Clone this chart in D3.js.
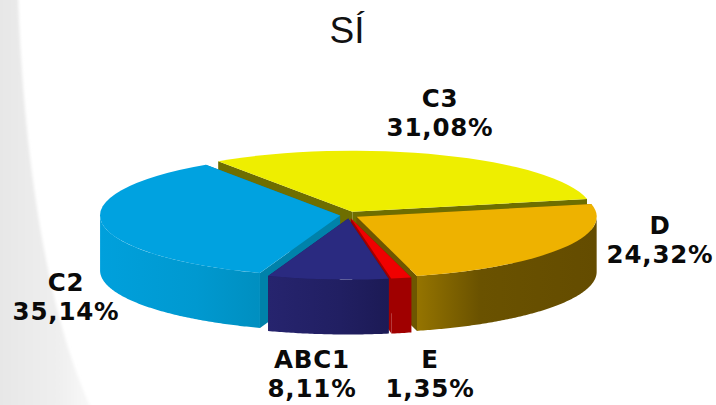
<!DOCTYPE html>
<html>
<head>
<meta charset="utf-8">
<script src="https://cdn.jsdelivr.net/npm/d3@7"></script>
<style>
  html, body { margin: 0; padding: 0; background: #fff; overflow: hidden; }
  svg { display: block; }
</style>
</head>
<body>
<div id="chart"></div>
<script>
var categories = ["C3", "D", "E", "ABC1", "C2"];
var values = [31.08, 24.32, 1.35, 8.11, 35.14];
var chartTitle = "SÍ";

var width = 716, height = 405;
var cx = 349, cy = 215, rx = 240, ry = 61, depth = 55;
var deg = Math.PI / 180;

var topColor = d3.scaleOrdinal().domain(categories).range(["#eeee00", "#eeb200", "#f00000", "#2a2a80", "#00a2e0"]);
var cutColor = d3.scaleOrdinal().domain(categories).range(["#6e6e00", "#6e5600", "#a00000", "#1e1c5c", "#0082aa"]);
var wallStart = d3.scaleOrdinal().domain(categories).range(["#6e6e00", "#957400", "#a00000", "#26246e", "#00a0dc"]);
var wallMid = d3.scaleOrdinal().domain(categories).range(["#6e6e00", "#6a5200", "#a00000", "#211f62", "#0099d0"]);
var wallEnd = d3.scaleOrdinal().domain(categories).range(["#6e6e00", "#644c00", "#a00000", "#1c1a55", "#008fc0"]);

// label centres, first line baseline
var labelPos = {C3: [440, 107], D: [660, 234], E: [430, 368], ABC1: [312, 368], C2: [66, 291]};

var svg = d3.select("#chart")
    .append("svg")
    .attr("width", width)
    .attr("height", height);

var defs = svg.append("defs");

// grey swoosh on the left of the slide
var bgGrad = defs.append("linearGradient").attr("id", "swoosh");
bgGrad.append("stop").attr("offset", "0%").attr("stop-color", "#e6e6e6");
bgGrad.append("stop").attr("offset", "60%").attr("stop-color", "#eeeeee");
bgGrad.append("stop").attr("offset", "100%").attr("stop-color", "#f8f8f8");

defs.append("filter").attr("id", "soft")
    .append("feGaussianBlur").attr("stdDeviation", 1.5);

svg.append("path")
    .attr("d", "M-5,-5 L18,-5 C22,120 40,300 92,410 L-5,410 Z")
    .attr("fill", "url(#swoosh)")
    .attr("filter", "url(#soft)");

var pie = d3.pie().sort(null).startAngle(-34 * deg).endAngle(326 * deg);
var slices = pie(values).map(function(s, i) {
  var mid = (s.startAngle + s.endAngle) / 2;
  return {
    name: categories[i],
    value: values[i],
    a0: s.startAngle,
    a1: s.endAngle,
    x: cx + 9 * Math.sin(mid),
    y: cy - 3.5 * Math.cos(mid)
  };
});

var arc = d3.arc().innerRadius(0).outerRadius(1);

function px(a) { return rx * Math.sin(a); }
function py(a) { return -ry * Math.cos(a); }

// back to front
var paintOrder = ["C3", "C2", "D", "E", "ABC1"];
var ordered = paintOrder.map(function(n) {
  return slices.find(function(s) { return s.name === n; });
});

var groups = svg.selectAll("g.slice")
    .data(ordered)
    .enter().append("g")
    .attr("class", "slice")
    .attr("transform", function(d) { return "translate(" + d.x + "," + d.y + ")"; });

// radial cut faces
groups.each(function(d) {
  var g = d3.select(this);
  [d.a0, d.a1].forEach(function(a) {
    g.append("path")
      .attr("d", "M0,0 L" + px(a) + "," + py(a) + " L" + px(a) + "," + (py(a) + depth) + " L0," + depth + " Z")
      .attr("fill", cutColor(d.name));
  });
});

// curved outer wall, only the part facing the viewer
groups.each(function(d, i) {
  var from = Math.max(d.a0, 90 * deg), to = Math.min(d.a1, 270 * deg);
  if (from >= to) return;
  var gradId = "wall" + i;
  var x1 = Math.min(px(from), px(to)), x2 = Math.max(px(from), px(to));
  var grad = defs.append("linearGradient")
      .attr("id", gradId)
      .attr("gradientUnits", "userSpaceOnUse")
      .attr("x1", x1).attr("x2", x2)
      .attr("y1", 0).attr("y2", 0);
  // the D wall runs dark to the right, the others run dark towards the middle of the pie
  grad.append("stop").attr("offset", "0%").attr("stop-color", wallStart(d.name));
  grad.append("stop").attr("offset", d.name === "D" ? "35%" : "60%").attr("stop-color", wallMid(d.name));
  grad.append("stop").attr("offset", "100%").attr("stop-color", wallEnd(d.name));

  var angles = d3.range(from, to, 0.01).concat([to]);
  var area = d3.area()
      .x(function(a) { return px(a); })
      .y0(function(a) { return py(a); })
      .y1(function(a) { return py(a) + depth; });
  d3.select(this).append("path")
      .attr("d", area(angles))
      .attr("fill", "url(#" + gradId + ")");
});

// top faces
groups.append("path")
    .attr("transform", "scale(" + rx + "," + ry + ")")
    .attr("d", function(d) { return arc({startAngle: d.a0, endAngle: d.a1}); })
    .attr("fill", function(d) { return topColor(d.name); });

// title
svg.append("text")
    .attr("x", 347)
    .attr("y", 43)
    .attr("text-anchor", "middle")
    .style("font-family", "'Liberation Sans', Arial, sans-serif")
    .style("font-size", "37px")
    .attr("fill", "#111")
    .text(chartTitle);

// labels
var labels = svg.selectAll("text.label")
    .data(slices)
    .enter().append("text")
    .attr("class", "label")
    .attr("text-anchor", "middle")
    .style("font-family", "'DejaVu Sans', Verdana, sans-serif")
    .style("font-weight", "bold")
    .style("font-size", "24.5px")
    .style("letter-spacing", "0.8px")
    .attr("fill", "#0a0a0a");

labels.append("tspan")
    .attr("x", function(d) { return labelPos[d.name][0]; })
    .attr("y", function(d) { return labelPos[d.name][1]; })
    .text(function(d) { return d.name; });

labels.append("tspan")
    .attr("x", function(d) { return labelPos[d.name][0]; })
    .attr("y", function(d) { return labelPos[d.name][1] + 29; })
    .text(function(d) { return d.value.toFixed(2).replace(".", ",") + "%"; });
</script>
</body>
</html>
